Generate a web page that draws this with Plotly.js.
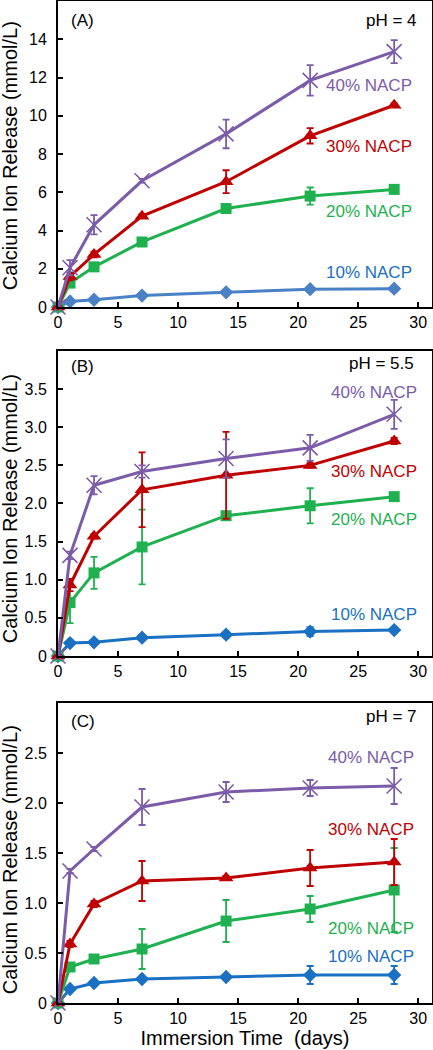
<!DOCTYPE html>
<html>
<head>
<meta charset="utf-8">
<script src="https://cdn.plot.ly/plotly-3.0.1.min.js"></script>
<style>html,body{margin:0;padding:0;background:#fff;}#chart{width:433px;height:1050px;}</style>
</head>
<body>
<div id="chart"></div>
<script>
// Immersion time (days)
var days = [0, 1, 3, 7, 14, 21, 28];

// Panel A: pH = 4
var a10 = [0, 0.29, 0.38, 0.6, 0.77, 0.93, 0.96];
var a10err = [0, 0.03, 0.03, 0.03, 0.03, 0.03, 0.03];
var a20 = [0, 1.25, 2.1, 3.4, 5.15, 5.8, 6.15];
var a20err = [0, 0.1, 0.15, 0.15, 0.15, 0.45, 0.2];
var a30 = [0, 1.6, 2.75, 4.75, 6.55, 8.95, 10.55];
var a30err = [0, 0.2, 0.15, 0.1, 0.6, 0.4, 0.1];
var a40 = [0, 2.05, 4.3, 6.6, 9.05, 11.85, 13.35];
var a40err = [0, 0.4, 0.5, 0.1, 0.75, 0.8, 0.6];

// Panel B: pH = 5.5
var b10 = [0, 0.17, 0.18, 0.24, 0.28, 0.32, 0.34];
var b10err = [0, 0.03, 0.02, 0.02, 0.03, 0.06, 0.03];
var b20 = [0, 0.7, 1.09, 1.43, 1.84, 1.97, 2.09];
var b20err = [0, 0.27, 0.21, 0.49, 0.04, 0.23, 0.04];
var b30 = [0, 0.93, 1.57, 2.18, 2.37, 2.5, 2.82];
var b30err = [0, 0.08, 0.03, 0.49, 0.57, 0.03, 0.04];
var b40 = [0, 1.32, 2.24, 2.42, 2.59, 2.73, 3.17];
var b40err = [0, 0.05, 0.12, 0.08, 0.25, 0.17, 0.19];

// Panel C: pH = 7
var c10 = [0, 0.14, 0.2, 0.24, 0.26, 0.28, 0.28];
var c10err = [0, 0.02, 0.02, 0.02, 0.02, 0.09, 0.09];
var c20 = [0, 0.36, 0.44, 0.54, 0.82, 0.94, 1.13];
var c20err = [0, 0.03, 0.03, 0.2, 0.21, 0.13, 0.42];
var c30 = [0, 0.59, 0.99, 1.22, 1.25, 1.35, 1.41];
var c30err = [0, 0.03, 0.03, 0.2, 0.02, 0.18, 0.23];
var c40 = [0, 1.32, 1.54, 1.96, 2.11, 2.15, 2.17];
var c40err = [0, 0.02, 0.02, 0.18, 0.1, 0.08, 0.18];

var seriesNames = ['10% NACP', '20% NACP', '30% NACP', '40% NACP'];
var panelLabels = ['(A)', '(B)', '(C)'];
var phLabels = ['pH = 4', 'pH = 5.5', 'pH = 7'];
var xTickVals = [0, 5, 10, 15, 20, 25, 30];
var yTickValsA = [0, 2, 4, 6, 8, 10, 12, 14];
var yTickTextA = ['0', '2', '4', '6', '8', '10', '12', '14'];
var yTickValsB = [0, 0.5, 1, 1.5, 2, 2.5, 3, 3.5];
var yTickTextB = ['0', '0.5', '1.0', '1.5', '2.0', '2.5', '3.0', '3.5'];
var yTickValsC = [0, 0.5, 1, 1.5, 2, 2.5];
var yTickTextC = ['0', '0.5', '1.0', '1.5', '2.0', '2.5'];
var yTitle = 'Calcium Ion Release (mmol/L)';
var xTitle = 'Immersion Time\u00a0 (days)';

var FONT = 'Liberation Sans, Arial, sans-serif';
var purple = '#7b5ca9', red = '#c00000', green = '#1fb14f', blueA = '#4a80c4', blue = '#1a70c2';

function mk(xa, ya, y, err, color, sym, size, name) {
  var isX = sym === 'x-thin';
  return {
    x: days, y: y, xaxis: xa, yaxis: ya, name: name, type: 'scatter', mode: 'lines+markers',
    cliponaxis: false, showlegend: false,
    line: {color: color, width: 3},
    marker: isX ? {symbol: sym, size: size, color: color, line: {color: color, width: 1.6}}
                : {symbol: sym, size: size, color: color},
    error_y: {type: 'data', array: err, visible: true, color: color, thickness: 1.8, width: 3.5}
  };
}

var data = [
  mk('x', 'y', a10, a10err, blueA, 'diamond', 11, seriesNames[0]),
  mk('x', 'y', a20, a20err, green, 'square', 11, seriesNames[1]),
  mk('x', 'y', a30, a30err, red, 'triangle-up', 13, seriesNames[2]),
  mk('x', 'y', a40, a40err, purple, 'x-thin', 15, seriesNames[3]),
  mk('x2', 'y2', b10, b10err, blue, 'diamond', 11, seriesNames[0]),
  mk('x2', 'y2', b20, b20err, green, 'square', 11, seriesNames[1]),
  mk('x2', 'y2', b30, b30err, red, 'triangle-up', 13, seriesNames[2]),
  mk('x2', 'y2', b40, b40err, purple, 'x-thin', 15, seriesNames[3]),
  mk('x3', 'y3', c10, c10err, blue, 'diamond', 11, seriesNames[0]),
  mk('x3', 'y3', c20, c20err, green, 'square', 11, seriesNames[1]),
  mk('x3', 'y3', c30, c30err, red, 'triangle-up', 13, seriesNames[2]),
  mk('x3', 'y3', c40, c40err, purple, 'x-thin', 15, seriesNames[3])
];

function xax(anchor, withTitle) {
  var a = {
    anchor: anchor, domain: [0, 1], range: [0, 31.15], tickmode: 'array', tickvals: xTickVals,
    ticks: 'inside', ticklen: 5, tickwidth: 2, tickcolor: '#000',
    showline: true, mirror: true, linecolor: '#000', linewidth: 2,
    showgrid: false, zeroline: false, ticklabelstandoff: 0,
    tickfont: {family: FONT, size: 16, color: '#000'}
  };
  if (withTitle) a.title = {text: xTitle, font: {family: FONT, size: 20, color: '#000'}, standoff: 4};
  return a;
}
function yax(anchor, domain, range, vals, text) {
  return {
    anchor: anchor, domain: domain, range: range, tickmode: 'array', tickvals: vals, ticktext: text,
    ticks: 'inside', ticklen: 5, tickwidth: 2, tickcolor: '#000',
    showline: true, mirror: true, linecolor: '#000', linewidth: 2,
    showgrid: false, zeroline: false, ticklabelstandoff: 6,
    tickfont: {family: FONT, size: 16, color: '#000'}
  };
}

function ann(xref, yref, x, y, text, color, xanchor, extra) {
  var a = {xref: xref, yref: yref, x: x, y: y, text: text, showarrow: false,
           xanchor: xanchor || 'center', yanchor: 'middle',
           font: {family: FONT, size: 17, color: color || '#000'}};
  if (extra) for (var k in extra) a[k] = extra[k];
  return a;
}

var annotations = [
  // Panel A
  ann('paper', 'paper', 0.029, 0.981, panelLabels[0], '#000', 'left'),
  ann('paper', 'paper', 0.965, 0.981, phLabels[0], '#000', 'right'),
  ann('x', 'y', 25.9, 11.6, seriesNames[3], purple),
  ann('x', 'y', 25.9, 8.4, seriesNames[2], red),
  ann('x', 'y', 25.9, 5.0, seriesNames[1], green),
  ann('x', 'y', 25.9, 1.81, seriesNames[0], blue),
  // Panel B
  ann('paper', 'paper', 0.029, 0.6357, panelLabels[1], '#000', 'left'),
  ann('paper', 'paper', 0.957, 0.6387, phLabels[1], '#000', 'right'),
  ann('x2', 'y2', 26.3, 3.46, seriesNames[3], purple),
  ann('x2', 'y2', 26.3, 2.42, seriesNames[2], red),
  ann('x2', 'y2', 26.3, 1.79, seriesNames[1], green),
  ann('x2', 'y2', 26.3, 0.54, seriesNames[0], blue),
  // Panel C
  ann('paper', 'paper', 0.029, 0.2807, panelLabels[2], '#000', 'left'),
  ann('paper', 'paper', 0.965, 0.2857, phLabels[2], '#000', 'right'),
  ann('x3', 'y3', 26.1, 2.46, seriesNames[3], purple),
  ann('x3', 'y3', 26.1, 1.74, seriesNames[2], red),
  ann('x3', 'y3', 26.1, 0.75, seriesNames[1], green),
  ann('x3', 'y3', 26.1, 0.47, seriesNames[0], blue),
  // Y titles
  ann('paper', 'paper', -0.128, 0.8453, yTitle, '#000', 'center', {textangle: -90, font: {family: FONT, size: 20, color: '#000'}}),
  ann('paper', 'paper', -0.128, 0.493, yTitle, '#000', 'center', {textangle: -90, font: {family: FONT, size: 20, color: '#000'}}),
  ann('paper', 'paper', -0.128, 0.1427, yTitle, '#000', 'center', {textangle: -90, font: {family: FONT, size: 20, color: '#000'}})
];

var layout = {
  width: 433, height: 1050,
  margin: {l: 58, r: 1, t: 1, b: 47, pad: 0},
  paper_bgcolor: '#fff', plot_bgcolor: '#fff',
  showlegend: false,
  font: {family: FONT, color: '#000'},
  xaxis: xax('y', false),
  yaxis: yax('x', [0.6946, 1], [0, 16], yTickValsA, yTickTextA),
  xaxis2: xax('y2', false),
  yaxis2: yax('x2', [0.3463, 0.6507], [0, 4], yTickValsB, yTickTextB),
  xaxis3: xax('y3', true),
  yaxis3: yax('x3', [0, 0.2994], [0, 3], yTickValsC, yTickTextC),
  annotations: annotations
};

Plotly.newPlot('chart', data, layout, {staticPlot: true, displayModeBar: false});
</script>
</body>
</html>
